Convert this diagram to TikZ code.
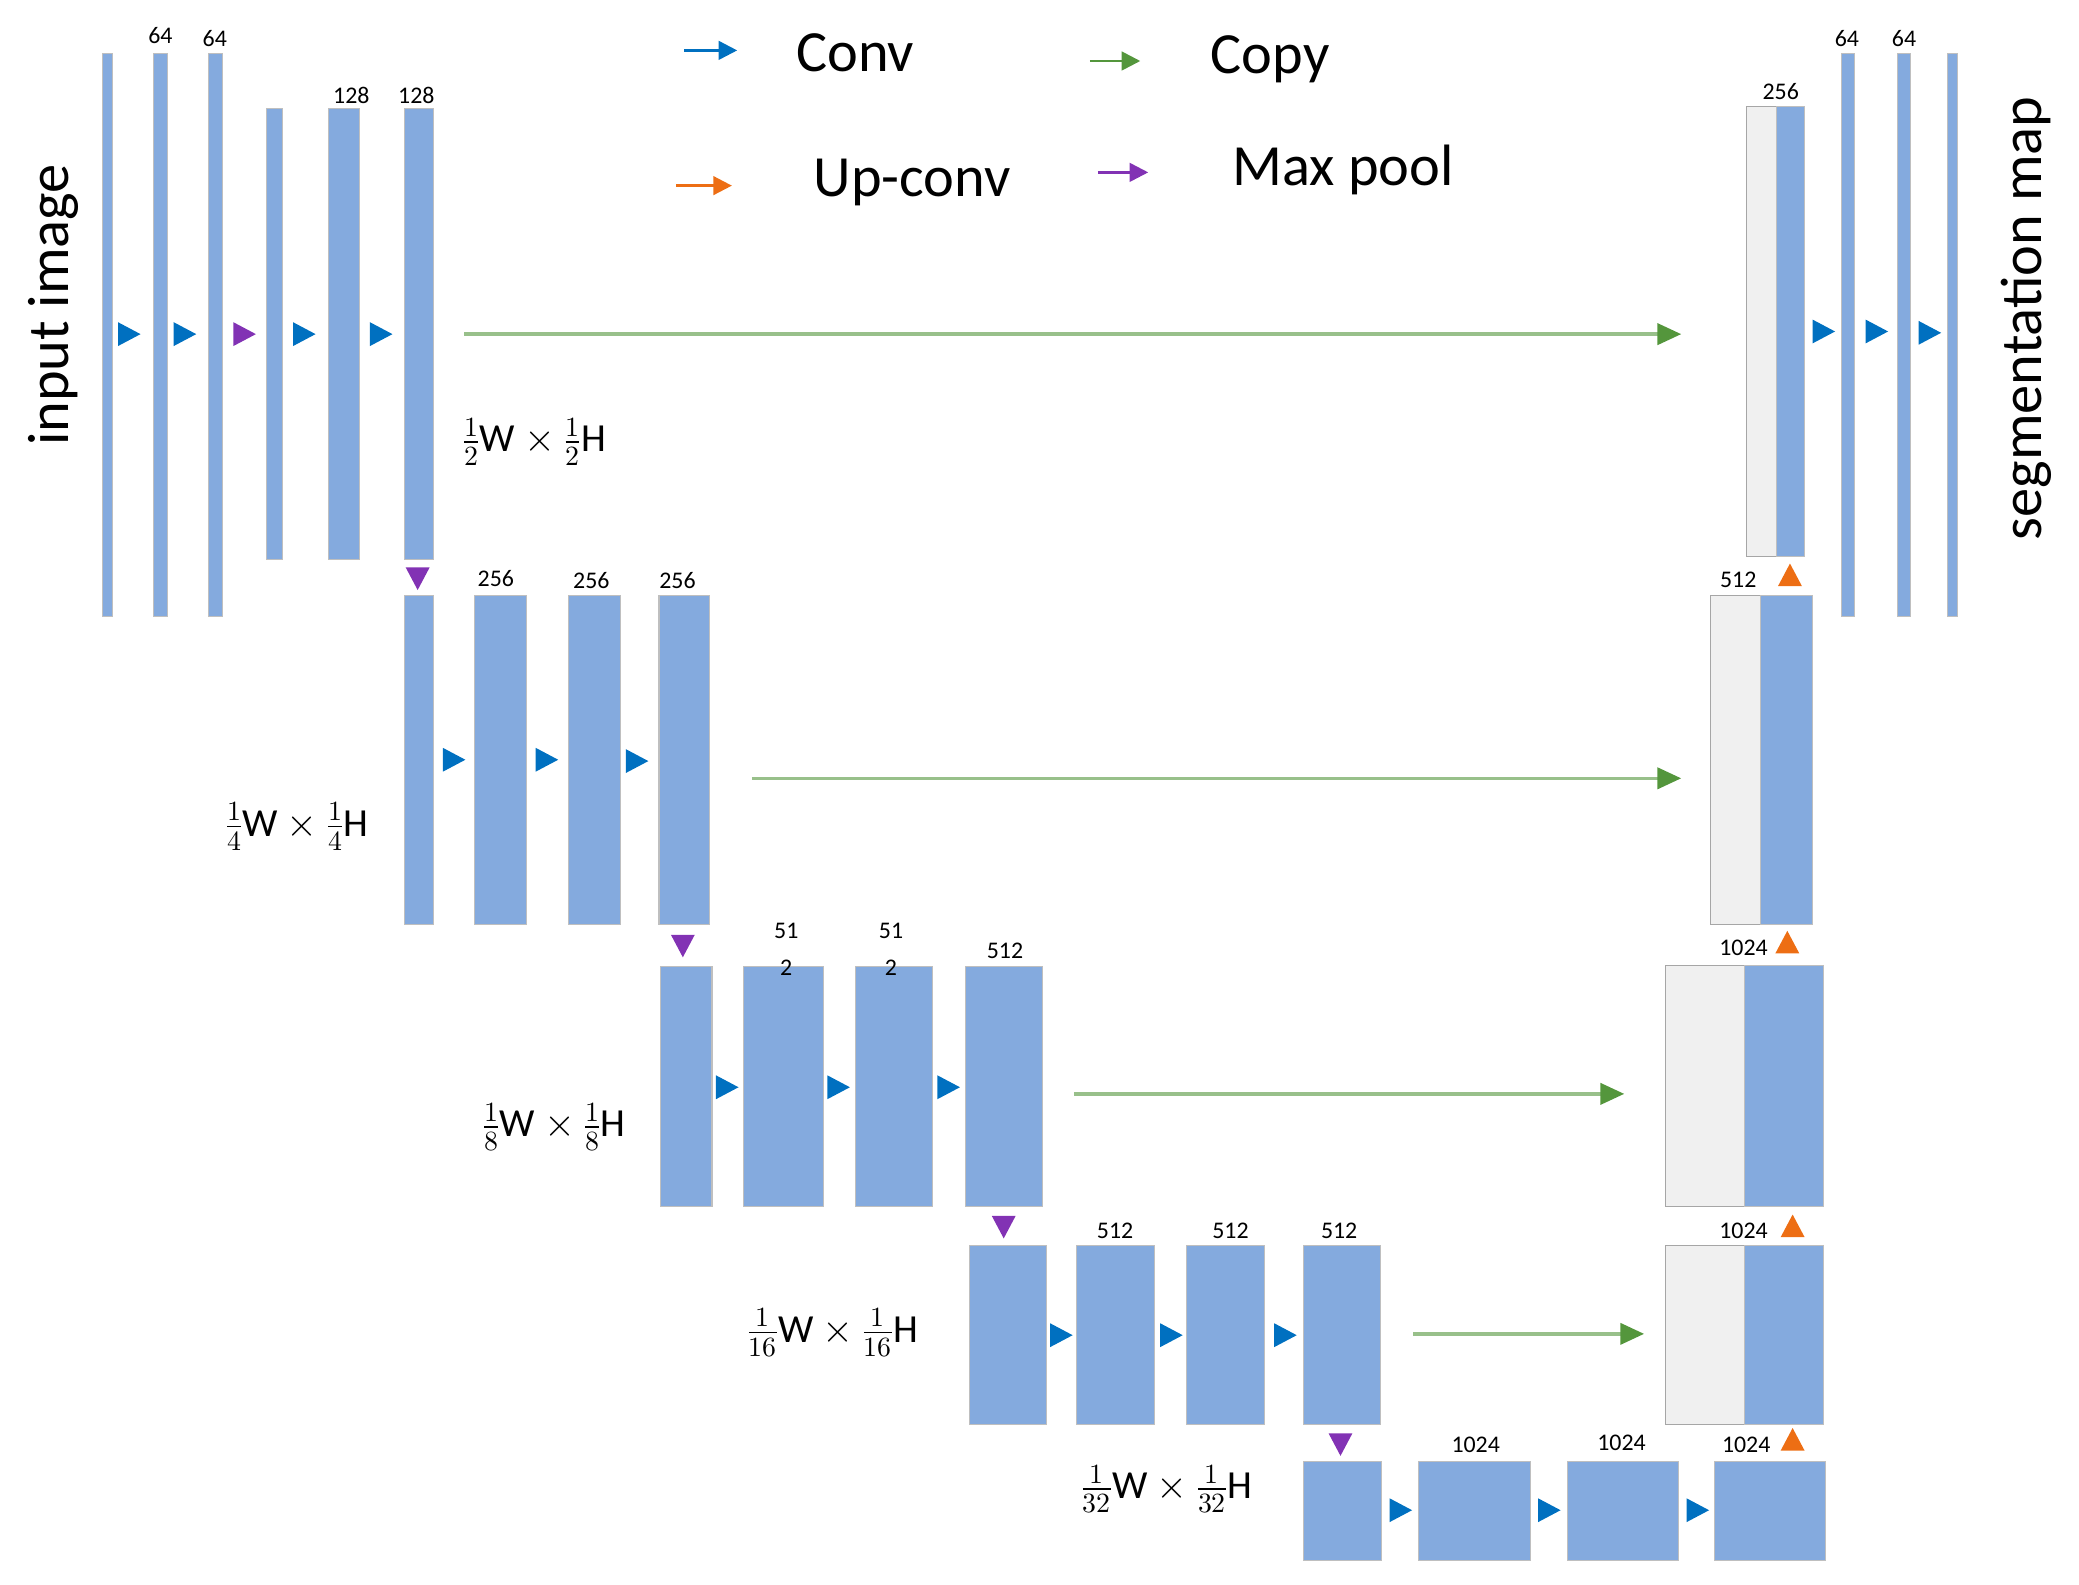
\documentclass[tikz,border=0pt]{standalone}
\usepackage{fontspec}
\setmainfont{Carlito}
\usepackage{unicode-math}
\usetikzlibrary{arrows.meta}
\definecolor{barc}{RGB}{132,170,222}
\definecolor{convc}{RGB}{0,112,192}
\definecolor{copyc}{RGB}{84,150,60}
\definecolor{upc}{RGB}{237,110,20}
\definecolor{poolc}{RGB}{130,50,180}
\definecolor{greyc}{RGB}{240,240,240}
\newcommand{\ub}[5]{\node[#1,minimum width={#4-#2},minimum height={#5-#3}] at ({(#2+#4)/2},{(#3+#5)/2}) {};}
\newcommand{\tr}[4]{% x y color direction(r,d,u)
 \begin{scope}[shift={(#1,#2)}]
 \ifx r#4\fill[#3] (-8,-9) -- (9,0) -- (-8,9) -- cycle;\fi
 \ifx d#4\fill[#3] (-9,-8) -- (9,-8) -- (0,9) -- cycle;\fi
 \ifx u#4\fill[#3] (-9,8) -- (9,8) -- (0,-9) -- cycle;\fi
 \end{scope}}
\begin{document}
\begin{tikzpicture}[x=1pt,y=-1pt,
 bar/.style={draw=black!25,line width=0.8pt,fill=barc,inner sep=0,outer sep=0},
 gbar/.style={draw=black!35,line width=0.8pt,fill=greyc,inner sep=0,outer sep=0},
 num/.style={font=\fontsize{18}{20}\selectfont,inner sep=0},
 dim/.style={font=\fontsize{30}{34}\selectfont,inner sep=0},
 leg/.style={font=\fontsize{44}{48}\selectfont,inner sep=0},
 copy/.style={draw=copyc!60!white,line width=2.5pt,-{Triangle[length=18pt,width=16pt,fill=copyc,color=copyc]}}]
\useasboundingbox (0,0) rectangle (1568,1195);
% level 1 left
\ub{bar}{77}{40}{85}{465}\ub{bar}{116}{40}{126}{465}\ub{bar}{157}{40}{168}{465}
\ub{bar}{201}{82}{213}{422}\ub{bar}{248}{82}{271}{422}\ub{bar}{305}{82}{327}{422}
\node[num] at (121,27){64};\node[num] at (162,29){64};\node[num] at (265,72){128};\node[num] at (314,72){128};
\tr{97}{252}{convc}{r}\tr{139}{252}{convc}{r}\tr{184}{252}{poolc}{r}\tr{229}{252}{convc}{r}\tr{287}{252}{convc}{r}
\coordinate (c1a) at (350,252);\coordinate (c1b) at (1268,252);\draw[copy] (c1a)--(c1b);
\node[dim] at (403,333){$\frac{1}{2}\mathrm{W}\times\frac{1}{2}\mathrm{H}$};
\tr{315}{436}{poolc}{d}
% level 2
\ub{bar}{305}{449}{327}{697}\ub{bar}{358}{449}{397}{697}\ub{bar}{429}{449}{468}{697}\ub{bar}{497}{449}{535}{697}
\node[num] at (374,436){256};\node[num] at (446,438){256};\node[num] at (511,438){256};
\tr{342}{573}{convc}{r}\tr{412}{573}{convc}{r}\tr{480}{574}{convc}{r}
\coordinate (c2a) at (567,587);\coordinate (c2b) at (1268,587);\draw[copy] (c2a)--(c2b);
\node[dim] at (224,623){$\frac{1}{4}\mathrm{W}\times\frac{1}{4}\mathrm{H}$};
\tr{515}{713}{poolc}{d}
% level 3
\ub{bar}{498}{729}{537}{910}\ub{bar}{561}{729}{621}{910}\ub{bar}{645}{729}{703}{910}\ub{bar}{728}{729}{786}{910}
\node[num] at (593,702){51};\node[num] at (593,730){2};\node[num] at (672,702){51};\node[num] at (672,730){2};\node[num] at (758,717){512};
\tr{548}{820}{convc}{r}\tr{632}{820}{convc}{r}\tr{715}{820}{convc}{r}
\coordinate (c3a) at (810,825);\coordinate (c3b) at (1225,825);\draw[copy] (c3a)--(c3b);
\node[dim] at (418,850){$\frac{1}{8}\mathrm{W}\times\frac{1}{8}\mathrm{H}$};
\tr{757}{925}{poolc}{d}
% level 4
\ub{bar}{731}{939}{789}{1074}\ub{bar}{812}{939}{871}{1074}\ub{bar}{895}{939}{954}{1074}\ub{bar}{983}{939}{1041}{1074}
\node[num] at (841,928){512};\node[num] at (928,928){512};\node[num] at (1010,928){512};
\tr{800}{1007}{convc}{r}\tr{883}{1007}{convc}{r}\tr{969}{1007}{convc}{r}
\coordinate (c4a) at (1066,1006);\coordinate (c4b) at (1240,1006);\draw[copy] (c4a)--(c4b);
\node[dim] at (628,1005){$\frac{1}{16}\mathrm{W}\times\frac{1}{16}\mathrm{H}$};
\tr{1011}{1089}{poolc}{d}
% level 5
\ub{bar}{983}{1102}{1042}{1177}\ub{bar}{1070}{1102}{1154}{1177}\ub{bar}{1182}{1102}{1266}{1177}\ub{bar}{1293}{1102}{1377}{1177}
\node[num] at (1113,1090){1024};\node[num] at (1223,1088){1024};\node[num] at (1317,1090){1024};
\tr{1056}{1139}{convc}{r}\tr{1168}{1139}{convc}{r}\tr{1280}{1139}{convc}{r}
\node[dim] at (880,1123){$\frac{1}{32}\mathrm{W}\times\frac{1}{32}\mathrm{H}$};
\tr{1352}{1086}{upc}{u}
% right side
\ub{gbar}{1256}{939}{1316}{1074}\ub{bar}{1316}{939}{1375}{1074}
\node[num] at (1315,928){1024};\tr{1352}{925}{upc}{u}
\ub{gbar}{1256}{728}{1316}{910}\ub{bar}{1316}{728}{1375}{910}
\node[num] at (1315,715){1024};\tr{1348}{711}{upc}{u}
\ub{gbar}{1290}{449}{1328}{697}\ub{bar}{1328}{449}{1367}{697}
\node[num] at (1311,437){512};\tr{1350}{434}{upc}{u}
\ub{gbar}{1317}{80}{1340}{420}\ub{bar}{1340}{80}{1361}{420}
\node[num] at (1343,69){256};
\ub{bar}{1389}{40}{1399}{465}\ub{bar}{1431}{40}{1441}{465}\ub{bar}{1469}{40}{1476}{465}
\node[num] at (1393,29){64};\node[num] at (1436,29){64};
\tr{1375}{250}{convc}{r}\tr{1415}{250}{convc}{r}\tr{1455}{251}{convc}{r}
% side texts
\node[leg,rotate=90] at (40,230){input image};
\node[leg,rotate=90] at (1528,240){segmentation map};
% legend
\coordinate (l1a) at (516,38);\coordinate (l1b) at (556,38);
\draw[convc,line width=2pt,-{Triangle[length=14pt,width=14pt]}] (l1a)--(l1b);
\node[leg] at (645,40){Conv};
\coordinate (l2a) at (822,46);\coordinate (l2b) at (860,46);
\draw[copyc,line width=2pt,-{Triangle[length=14pt,width=14pt]}] (l2a)--(l2b);
\node[leg] at (958,45){Copy};
\coordinate (l3a) at (510,140);\coordinate (l3b) at (552,140);
\draw[upc,line width=2pt,-{Triangle[length=14pt,width=14pt]}] (l3a)--(l3b);
\node[leg] at (688,138){Up-conv};
\coordinate (l4a) at (828,130);\coordinate (l4b) at (866,130);
\draw[poolc,line width=2pt,-{Triangle[length=14pt,width=14pt]}] (l4a)--(l4b);
\node[leg] at (1013,128){Max pool};
\end{tikzpicture}
\end{document}
